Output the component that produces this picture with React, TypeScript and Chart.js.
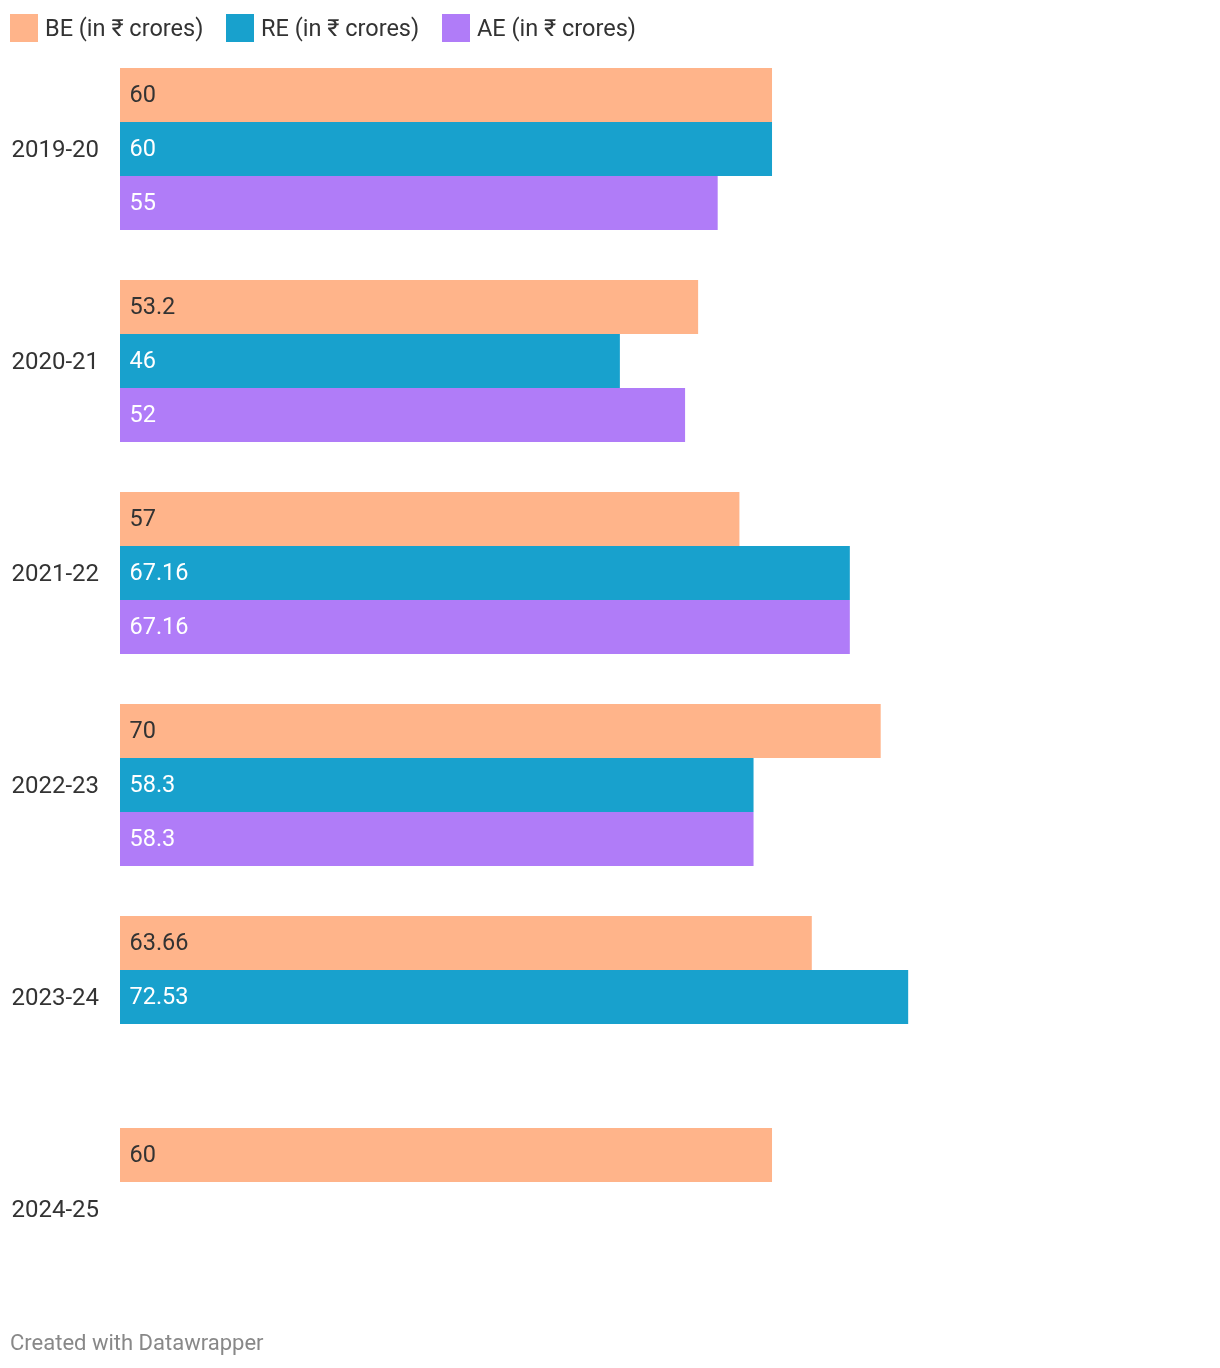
import React, { useEffect, useRef } from "react";
import { Chart, registerables } from "chart.js";

Chart.register(...registerables);

const categories = ["2019-20", "2020-21", "2021-22", "2022-23", "2023-24", "2024-25"];
const beValues: (number | null)[] = [60, 53.2, 57, 70, 63.66, 60];
const reValues: (number | null)[] = [60, 46, 67.16, 58.3, 72.53, null];
const aeValues: (number | null)[] = [55, 52, 67.16, 58.3, null, null];
const seriesNames = ["BE (in ₹ crores)", "RE (in ₹ crores)", "AE (in ₹ crores)"];
const seriesColors = ["#ffb48a", "#18a1cd", "#b07cf8"];
const labelColors = ["#333333", "#ffffff", "#ffffff"];

const FONT = "Roboto, 'Noto Sans', sans-serif";

const valueLabelPlugin = {
  id: "valueLabels",
  afterDatasetsDraw(chart: any) {
    const ctx = chart.ctx;
    ctx.save();
    ctx.font = `23.5px ${FONT}`;
    ctx.textBaseline = "middle";
    ctx.textAlign = "left";
    chart.data.datasets.forEach((ds: any, di: number) => {
      const meta = chart.getDatasetMeta(di);
      meta.data.forEach((el: any, i: number) => {
        const v = ds.data[i];
        if (v === null || v === undefined) return;
        ctx.fillStyle = labelColors[di];
        ctx.fillText(String(v), el.base + 9.5, el.y + 1);
      });
    });
    ctx.restore();
  },
};

export default function App() {
  const ref = useRef<HTMLCanvasElement>(null);

  useEffect(() => {
    document.body.style.margin = "0";
    const values = [beValues, reValues, aeValues];
    const chart = new Chart(ref.current!, {
      type: "bar",
      data: {
        labels: categories,
        datasets: values.map((d, i) => ({
          label: seriesNames[i],
          data: d,
          backgroundColor: seriesColors[i],
          borderWidth: 0,
          categoryPercentage: 162 / 212,
          barPercentage: 1,
        })),
      },
      options: {
        indexAxis: "y",
        animation: false,
        responsive: false,
        maintainAspectRatio: false,
        layout: { padding: { left: 0, right: 13.3, top: 43, bottom: 53 } },
        plugins: {
          legend: { display: false },
          tooltip: { enabled: false },
        },
        scales: {
          x: {
            display: false,
            min: 0,
            max: 100,
          },
          y: {
            grid: { display: false, drawTicks: false },
            border: { display: false },
            ticks: {
              padding: 21,
              labelOffset: 2,
              color: "#333333",
              font: { family: FONT, size: 24 },
            },
            afterFit: (scale: any) => {
              scale.width = 120;
            },
          },
        },
      },
      plugins: [valueLabelPlugin],
    });
    return () => chart.destroy();
  }, []);

  const legendLefts = [10, 226, 442];

  return (
    <div style={{ position: "absolute", left: 0, top: 0, width: 1220, height: 1368, background: "#fff", fontFamily: FONT }}>
      <canvas ref={ref} width={1220} height={1368} style={{ position: "absolute", left: 0, top: 0, width: 1220, height: 1368 }} />
      {seriesNames.map((name, i) => (
        <div
          key={name}
          style={{
            position: "absolute",
            left: legendLefts[i],
            top: 14,
            height: 28,
            display: "flex",
            alignItems: "center",
            whiteSpace: "nowrap",
          }}
        >
          <span style={{ display: "inline-block", width: 28, height: 28, background: seriesColors[i] }} />
          <span style={{ marginLeft: 7, fontSize: 23.5, lineHeight: "28px", color: "#333333" }}>{name}</span>
        </div>
      ))}
      <div
        style={{
          position: "absolute",
          left: 10,
          top: 1331.5,
          fontSize: 22,
          lineHeight: "22px",
          color: "#888888",
          whiteSpace: "nowrap",
        }}
      >
        Created with Datawrapper
      </div>
    </div>
  );
}
